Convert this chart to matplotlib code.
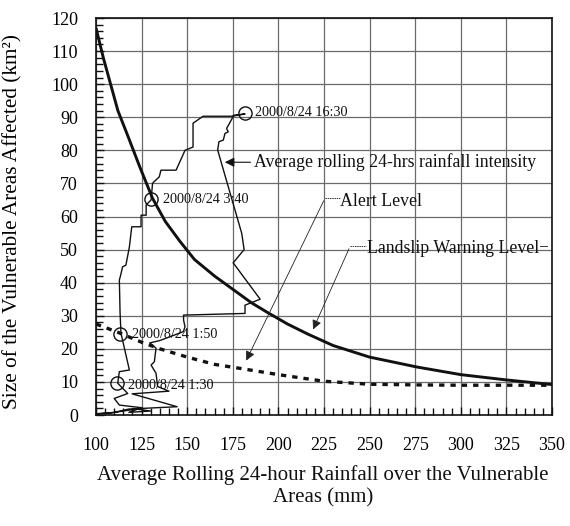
import matplotlib
matplotlib.use("Agg")
import matplotlib.pyplot as plt
from matplotlib.ticker import MultipleLocator

plt.rcParams['font.family'] = ['Liberation Serif', 'DejaVu Serif']

# ---- data ----
x_ticks = [100, 125, 150, 175, 200, 225, 250, 275, 300, 325, 350]
y_ticks = [0, 10, 20, 30, 40, 50, 60, 70, 80, 90, 100, 110, 120]

# Landslip Warning Level (thick solid curve)
landslip_x = [100, 104, 108, 112, 117, 124, 131, 138, 146, 154, 165, 175, 185,
              194, 205, 216, 230, 250, 276, 300, 325, 350]
landslip_y = [117, 108, 100, 92, 85, 75, 65.5, 58.5, 52.5, 47, 42, 38, 34,
              31, 27.5, 24.5, 21, 17.5, 14.5, 12.2, 10.6, 9.2]

# Alert Level (thick dashed curve)
alert_x = [100, 112, 125, 135, 150, 165, 180, 200, 225, 250, 275, 300, 325, 350]
alert_y = [27.5, 25, 22, 20, 17.5, 15.3, 14, 12.2, 10.2, 9.3, 9.1, 9.0, 9.0, 9.0]

# Average rolling 24-hrs rainfall intensity (event trajectory)
traj_x = [100, 108, 115, 122, 130, 118, 125, 112.8, 110, 117.4, 111.9, 112.8, 118.3,
          113.7, 113.2, 112.8, 113.3, 114.6, 116.4, 118.3, 119.6, 124.7, 124.7,
          127.5, 127.5, 130.2, 131, 131.8, 134.7, 135.6, 143.9, 148.8, 153.2,
          153.2, 158.7, 174.6, 181.7, 175.5, 174.4, 171.6, 172.5, 170.7, 169.8,
          167.4, 166.7, 179.9, 181.2, 175.2, 190, 181.7, 181.7, 148, 148, 148.8,
          147.9, 135, 129.5, 132.9, 132, 130.2, 132.9, 133.8, 140, 119.8, 144.5,
          118, 110, 100]
traj_y = [0.4, 0.6, 1.2, 1.8, 1.2, 0.8, 2.2, 3, 5, 6.5, 9.6, 13.1, 13.6,
          24.7, 30.8, 40.8, 41.8, 44.8, 45.3, 50.8, 56.9, 56.9, 60.4,
          60.4, 63.5, 65, 70, 70.5, 72, 74, 74, 80, 81,
          88.2, 90.3, 90.3, 91.0, 90.6, 89.4, 86.6, 85.6, 85.1, 83.1,
          82.6, 80.1, 54.9, 50, 46, 35, 33.2, 30.7, 30.2, 28.7, 26.7,
          25.2, 22.5, 21.8, 20.2, 16.1, 15.1, 12.6, 8.6, 7.2, 6.4, 2.5,
          1.8, 0.8, 0.3]

# marked events
event_labels = ['2000/8/24 1:30', '2000/8/24 1:50', '2000/8/24 3:40', '2000/8/24 16:30']
event_x = [111.3, 113.0, 130.3, 181.7]
event_y = [9.7, 24.5, 65.2, 91.4]
event_text_x = [117.7, 119.5, 136.7, 187.2]
event_text_y = [9.0, 24.2, 65.0, 91.3]

# ---- figure ----
fig = plt.figure(figsize=(5.70, 5.26), dpi=100)
ax = fig.add_axes([96/570, 1-415/526, 456/570, 397/526])
ax.set_xlim(100, 350)
ax.set_ylim(0, 120)

ax.set_xticks(x_ticks)
ax.set_yticks(y_ticks)
ax.xaxis.set_minor_locator(MultipleLocator(5))
ax.yaxis.set_minor_locator(MultipleLocator(2))
ax.tick_params(which='both', direction='in', top=False, right=False, width=1.0, color='#111')
ax.tick_params(which='major', length=6)
ax.tick_params(which='minor', length=5)
ax.tick_params(axis='x', which='major', pad=16, labelsize=13)
ax.tick_params(axis='y', which='major', pad=13, labelsize=13)

ax.grid(True, which='major', color='#6a6a6a', linewidth=0.9)
ax.set_axisbelow(True)
for s in ax.spines.values():
    s.set_linewidth(1.2)
    s.set_color('#111')

ax.plot(landslip_x, landslip_y, color='#111', lw=2.1, solid_capstyle='butt', zorder=3)
ax.plot(alert_x, alert_y, color='#111', lw=2.4, linestyle=(0, (1.6, 1.8)), zorder=3)
ax.plot(traj_x, traj_y, color='#111', lw=1.0, zorder=4)
ax.plot(event_x, event_y, linestyle='none', marker='o', markersize=9.5,
        markerfacecolor='none', markeredgecolor='#111', markeredgewidth=1.0, zorder=5)

for lab, tx, ty in zip(event_labels, event_text_x, event_text_y):
    ax.text(tx, ty, lab, fontsize=10.2, ha='left', va='center', color='#111', zorder=6)

# annotation: trajectory label
ax.annotate('', xy=(169.1, 76.4), xytext=(186.2, 76.4),
            arrowprops=dict(arrowstyle='-|>', color='#111', lw=0.8, mutation_scale=14))
ax.text(186.6, 76.4, 'Average rolling 24-hrs rainfall intensity', fontsize=12.8,
        ha='left', va='center', color='#111')

# annotation: Alert Level -> dashed curve
ax.plot([225.5, 233.5], [65.5, 65.5], color='#333', lw=0.7, linestyle=(0, (1.5, 0.8)))
ax.annotate('', xy=(181.7, 15.7), xytext=(225.5, 65.5),
            arrowprops=dict(arrowstyle='-|>', color='#222', lw=0.6, mutation_scale=14))
ax.text(234.0, 64.4, 'Alert Level', fontsize=12.8, ha='left', va='center', color='#111')

# annotation: Landslip Warning Level -> solid curve
ax.plot([239.3, 248.0], [51.0, 51.0], color='#333', lw=0.7, linestyle=(0, (1.5, 0.8)))
ax.plot([343.6, 347.0], [51.0, 51.0], color='#333', lw=0.7)
ax.annotate('', xy=(218.4, 25.1), xytext=(239.3, 51.0),
            arrowprops=dict(arrowstyle='-|>', color='#222', lw=0.6, mutation_scale=14))
ax.text(248.4, 50.3, 'Landslip Warning Level', fontsize=12.8, ha='left', va='center', color='#111')

ax.set_ylabel('Size of the Vulnerable Areas Affected (km²)', fontsize=15.3)
ax.yaxis.set_label_coords(-0.162, 0.487)

fig.text(323/570, 1-486/526,
         'Average Rolling 24-hour Rainfall over the Vulnerable\nAreas (mm)',
         ha='center', va='center', fontsize=15.0, linespacing=1.2, color='#111')

fig.savefig('out.png', dpi=100, facecolor='white')
